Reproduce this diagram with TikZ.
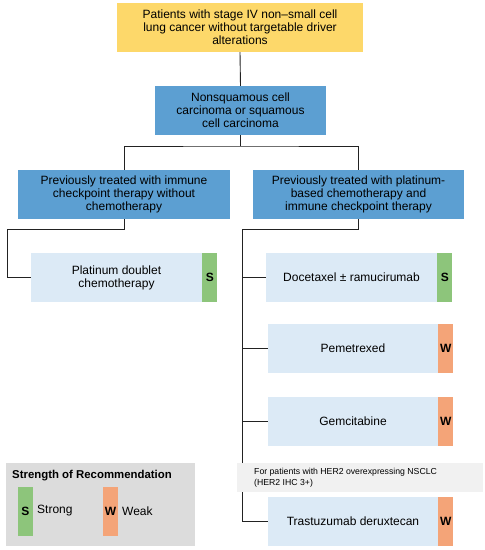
\documentclass[tikz,border=0pt]{standalone}
\usepackage{fontspec}
\setmainfont{Liberation Sans}
\definecolor{ylw}{HTML}{FDD86A}
\definecolor{blu}{HTML}{5C9FD2}
\definecolor{lblu}{HTML}{DCEAF6}
\definecolor{grn}{HTML}{8DC57B}
\definecolor{org}{HTML}{F4A478}
\definecolor{lgry}{HTML}{DCDCDC}
\definecolor{ngry}{HTML}{F1F1F1}
\definecolor{lin}{HTML}{222222}
\tikzset{
  box/.style={inner sep=0pt,align=center,minimum height=49pt,
    font=\fontsize{12}{13.2}\selectfont},
  topbox/.style={box,fill=ylw,minimum width=246pt},
  headbox/.style={box,fill=blu,minimum width=#1},
  drugbox/.style={box,fill=lblu,minimum width=#1},
  tagbox/.style={inner sep=0pt,minimum width=15pt,minimum height=49pt,
    fill=#1,font=\fontsize{12}{12}\selectfont\bfseries},
  conn/.style={draw=lin,line width=0.9pt}
}
\begin{document}
\begin{tikzpicture}[x=1pt,y=-1pt]
	\useasboundingbox (0,0) rectangle (485,550);
	% top part
	\node[topbox] (pat) at (240,27.5) {Patients with stage IV non–small cell\\lung cancer without targetable driver\\alterations};
	\node[headbox=171pt] (hist) at (240.5,110.5) {Nonsquamous cell\\carcinoma or squamous\\cell carcinoma};
	\node[headbox=212pt] (ici) at (124,194.5) {Previously treated with immune\\checkpoint therapy without\\chemotherapy};
	\node[headbox=211pt] (plt) at (358.5,194.5) {Previously treated with platinum-\\based chemotherapy and\\immune checkpoint therapy};
	% treatments
	\node[drugbox=171pt] (dbl) at (116.5,277.5) {Platinum doublet\\chemotherapy};
	\node[tagbox=grn,anchor=west] (dblS) at (dbl.east) {S};
	\node[drugbox=171pt] (doc) at (351.5,277.5) {Docetaxel ± ramucirumab};
	\node[tagbox=grn,anchor=west] (docS) at (doc.east) {S};
	\node[drugbox=170pt] (pem) at (353,348.5) {Pemetrexed};
	\node[tagbox=org,anchor=west] (pemW) at (pem.east) {W};
	\node[drugbox=170pt] (gem) at (353,421.5) {Gemcitabine};
	\node[tagbox=org,anchor=west] (gemW) at (gem.east) {W};
	\node[drugbox=170pt] (tra) at (353,521.5) {Trastuzumab deruxtecan};
	\node[tagbox=org,anchor=west] (traW) at (tra.east) {W};
	% connectors
	\coordinate (split) at (240.5,146);
	\coordinate (lbend) at (7,229);
	\coordinate (rbend) at (242,229);
	\draw[conn] (pat.south) -- (hist.north);
	\draw[conn] (hist.south) -- (split);
	\draw[conn] (ici.north) |- (split) -| (plt.north);
	\draw[conn] (ici.south) |- (lbend) |- (dbl.west);
	\draw[conn] (plt.south) |- (rbend) |- (tra.west);
	\draw[conn] (rbend |- doc.west) -- (doc.west);
	\draw[conn] (rbend |- pem.west) -- (pem.west);
	\draw[conn] (rbend |- gem.west) -- (gem.west);
	\node[fill=ngry,minimum width=246pt,minimum height=29pt,inner sep=0pt] (her) at (360,477.5) {};
	\node[anchor=west,align=left,inner sep=0pt,font=\fontsize{8.7}{11.5}\selectfont] (hertxt) at (254,477.5) {For patients with HER2 overexpressing NSCLC\\(HER2 IHC 3+)};
	% legend
	\node[fill=lgry,minimum width=189pt,minimum height=83pt,inner sep=0pt] (leg) at (100.5,504.5) {};
	\node[anchor=west,inner sep=0pt,font=\fontsize{11.4}{12}\selectfont\bfseries] (legtitle) at (12,476) {Strength of Recommendation};
	\node[tagbox=grn] (legS) at (25.5,511.5) {S};
	\node[anchor=west,inner sep=0pt,font=\fontsize{12}{12}\selectfont] (strong) at (37,511) {Strong};
	\node[tagbox=org] (legW) at (110.5,511.5) {W};
	\node[anchor=west,inner sep=0pt,font=\fontsize{12}{12}\selectfont] (weak) at (122,511) {Weak};
\end{tikzpicture}
\end{document}
